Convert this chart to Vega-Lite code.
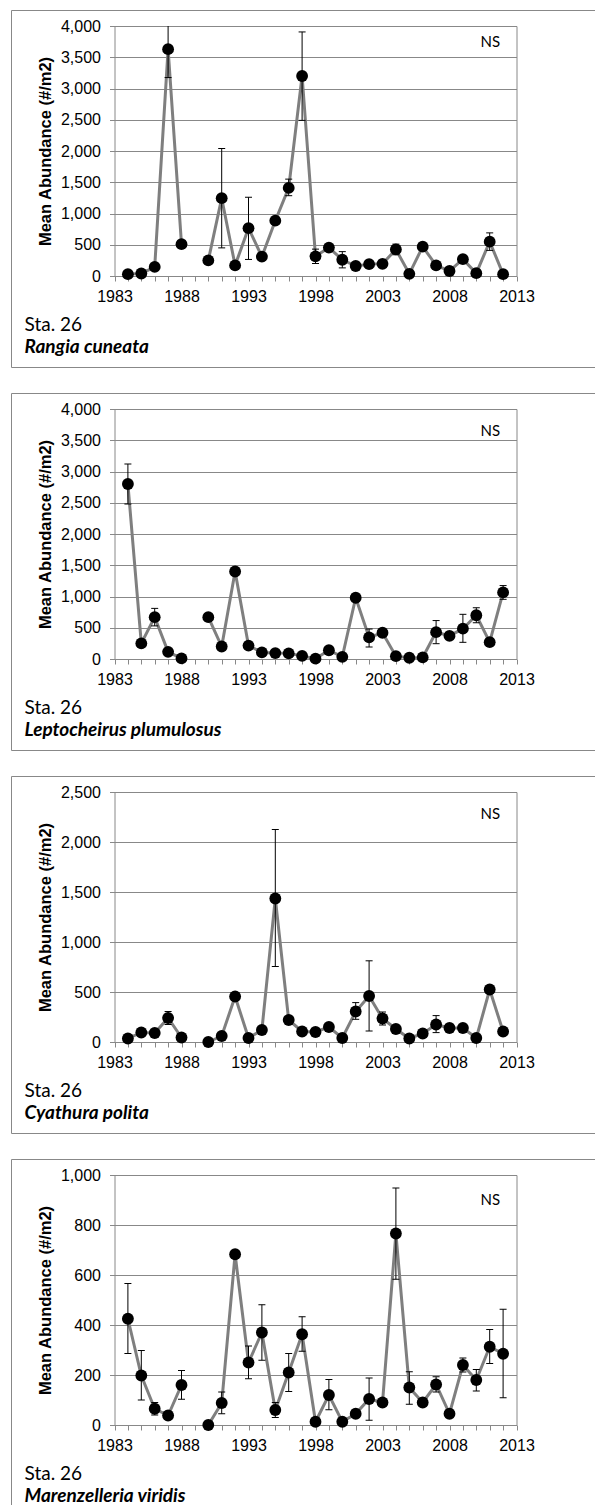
{
  "$schema": "https://vega.github.io/schema/vega-lite/v6.json",
  "background": "white",
  "padding": {"left": 10, "top": 9, "right": 0, "bottom": 0},
  "autosize": {"type": "pad"},
  "datasets": {
    "rangia": [
      {"year": 1984, "mean": 30, "lo": null, "hi": null},
      {"year": 1985, "mean": 40, "lo": null, "hi": null},
      {"year": 1986, "mean": 145, "lo": null, "hi": null},
      {"year": 1987, "mean": 3630, "lo": 3175, "hi": 4000},
      {"year": 1988, "mean": 510, "lo": null, "hi": null},
      {"year": 1990, "mean": 250, "lo": null, "hi": null},
      {"year": 1991, "mean": 1245, "lo": 450, "hi": 2040},
      {"year": 1992, "mean": 170, "lo": null, "hi": null},
      {"year": 1993, "mean": 765, "lo": 265, "hi": 1260},
      {"year": 1994, "mean": 310, "lo": null, "hi": null},
      {"year": 1995, "mean": 885, "lo": null, "hi": null},
      {"year": 1996, "mean": 1410, "lo": 1285, "hi": 1550},
      {"year": 1997, "mean": 3200, "lo": 2490, "hi": 3905},
      {"year": 1998, "mean": 315, "lo": 200, "hi": 430},
      {"year": 1999, "mean": 455, "lo": null, "hi": null},
      {"year": 2000, "mean": 260, "lo": 130, "hi": 390},
      {"year": 2001, "mean": 160, "lo": null, "hi": null},
      {"year": 2002, "mean": 190, "lo": null, "hi": null},
      {"year": 2003, "mean": 195, "lo": null, "hi": null},
      {"year": 2004, "mean": 425, "lo": 340, "hi": 510},
      {"year": 2005, "mean": 35, "lo": null, "hi": null},
      {"year": 2006, "mean": 470, "lo": null, "hi": null},
      {"year": 2007, "mean": 170, "lo": null, "hi": null},
      {"year": 2008, "mean": 80, "lo": null, "hi": null},
      {"year": 2009, "mean": 270, "lo": null, "hi": null},
      {"year": 2010, "mean": 45, "lo": null, "hi": null},
      {"year": 2011, "mean": 550, "lo": 410, "hi": 690},
      {"year": 2012, "mean": 30, "lo": null, "hi": null}
    ],
    "lepto": [
      {"year": 1984, "mean": 2800, "lo": 2480, "hi": 3120},
      {"year": 1985, "mean": 250, "lo": null, "hi": null},
      {"year": 1986, "mean": 670, "lo": 530, "hi": 810},
      {"year": 1987, "mean": 115, "lo": null, "hi": null},
      {"year": 1988, "mean": 10, "lo": null, "hi": null},
      {"year": 1990, "mean": 670, "lo": null, "hi": null},
      {"year": 1991, "mean": 200, "lo": null, "hi": null},
      {"year": 1992, "mean": 1400, "lo": null, "hi": null},
      {"year": 1993, "mean": 215, "lo": null, "hi": null},
      {"year": 1994, "mean": 105, "lo": null, "hi": null},
      {"year": 1995, "mean": 95, "lo": null, "hi": null},
      {"year": 1996, "mean": 90, "lo": null, "hi": null},
      {"year": 1997, "mean": 50, "lo": null, "hi": null},
      {"year": 1998, "mean": 5, "lo": null, "hi": null},
      {"year": 1999, "mean": 140, "lo": null, "hi": null},
      {"year": 2000, "mean": 35, "lo": null, "hi": null},
      {"year": 2001, "mean": 980, "lo": null, "hi": null},
      {"year": 2002, "mean": 345, "lo": 192, "hi": 480},
      {"year": 2003, "mean": 420, "lo": null, "hi": null},
      {"year": 2004, "mean": 45, "lo": null, "hi": null},
      {"year": 2005, "mean": 20, "lo": null, "hi": null},
      {"year": 2006, "mean": 25, "lo": null, "hi": null},
      {"year": 2007, "mean": 430, "lo": 245, "hi": 615},
      {"year": 2008, "mean": 370, "lo": null, "hi": null},
      {"year": 2009, "mean": 485, "lo": 267, "hi": 715},
      {"year": 2010, "mean": 700, "lo": 580, "hi": 820},
      {"year": 2011, "mean": 270, "lo": null, "hi": null},
      {"year": 2012, "mean": 1065, "lo": 955, "hi": 1175}
    ],
    "cyath": [
      {"year": 1984, "mean": 35, "lo": null, "hi": null},
      {"year": 1985, "mean": 95, "lo": null, "hi": null},
      {"year": 1986, "mean": 90, "lo": null, "hi": null},
      {"year": 1987, "mean": 240, "lo": 175, "hi": 305},
      {"year": 1988, "mean": 45, "lo": null, "hi": null},
      {"year": 1990, "mean": 0, "lo": null, "hi": null},
      {"year": 1991, "mean": 60, "lo": null, "hi": null},
      {"year": 1992, "mean": 455, "lo": null, "hi": null},
      {"year": 1993, "mean": 40, "lo": null, "hi": null},
      {"year": 1994, "mean": 120, "lo": null, "hi": null},
      {"year": 1995, "mean": 1435, "lo": 755, "hi": 2125},
      {"year": 1996, "mean": 220, "lo": null, "hi": null},
      {"year": 1997, "mean": 105, "lo": null, "hi": null},
      {"year": 1998, "mean": 100, "lo": null, "hi": null},
      {"year": 1999, "mean": 150, "lo": null, "hi": null},
      {"year": 2000, "mean": 40, "lo": null, "hi": null},
      {"year": 2001, "mean": 305, "lo": 227, "hi": 394},
      {"year": 2002, "mean": 460, "lo": 110, "hi": 812},
      {"year": 2003, "mean": 235, "lo": 170, "hi": 300},
      {"year": 2004, "mean": 130, "lo": null, "hi": null},
      {"year": 2005, "mean": 35, "lo": null, "hi": null},
      {"year": 2006, "mean": 85, "lo": null, "hi": null},
      {"year": 2007, "mean": 175, "lo": 94, "hi": 264},
      {"year": 2008, "mean": 140, "lo": null, "hi": null},
      {"year": 2009, "mean": 140, "lo": null, "hi": null},
      {"year": 2010, "mean": 40, "lo": null, "hi": null},
      {"year": 2011, "mean": 525, "lo": null, "hi": null},
      {"year": 2012, "mean": 105, "lo": null, "hi": null}
    ],
    "maren": [
      {"year": 1984, "mean": 425, "lo": 286, "hi": 566},
      {"year": 1985, "mean": 198, "lo": 100, "hi": 298},
      {"year": 1986, "mean": 65, "lo": 40, "hi": 90},
      {"year": 1987, "mean": 38, "lo": null, "hi": null},
      {"year": 1988, "mean": 160, "lo": 103, "hi": 218},
      {"year": 1990, "mean": 0, "lo": null, "hi": null},
      {"year": 1991, "mean": 88, "lo": 45, "hi": 132},
      {"year": 1992, "mean": 683, "lo": null, "hi": null},
      {"year": 1993, "mean": 250, "lo": 185, "hi": 316},
      {"year": 1994, "mean": 370, "lo": 259, "hi": 481},
      {"year": 1995, "mean": 60, "lo": 30, "hi": 90},
      {"year": 1996, "mean": 210, "lo": 134, "hi": 286},
      {"year": 1997, "mean": 363, "lo": 295, "hi": 433},
      {"year": 1998, "mean": 13, "lo": null, "hi": null},
      {"year": 1999, "mean": 120, "lo": 61, "hi": 182},
      {"year": 2000, "mean": 13, "lo": null, "hi": null},
      {"year": 2001, "mean": 45, "lo": 30, "hi": 60},
      {"year": 2002, "mean": 104, "lo": 19, "hi": 188},
      {"year": 2003, "mean": 90, "lo": null, "hi": null},
      {"year": 2004, "mean": 766, "lo": 583, "hi": 948},
      {"year": 2005, "mean": 150, "lo": 83, "hi": 213},
      {"year": 2006, "mean": 90, "lo": null, "hi": null},
      {"year": 2007, "mean": 162, "lo": 132, "hi": 193},
      {"year": 2008, "mean": 45, "lo": null, "hi": null},
      {"year": 2009, "mean": 240, "lo": 212, "hi": 268},
      {"year": 2010, "mean": 180, "lo": 136, "hi": 222},
      {"year": 2011, "mean": 313, "lo": 246, "hi": 382},
      {"year": 2012, "mean": 285, "lo": 109, "hi": 463}
    ]
  },
  "vconcat": [
    {
      "data": {"name": "rangia"},
      "width": 584, "height": 357,
      "title": {"text": "Sta. 26", "subtitle": "Rangia cuneata", "orient": "bottom", "anchor": "start", "frame": "group", "offset": -51, "dx": 13.5, "font": "Lato", "fontSize": 19, "fontWeight": "normal", "color": "#000", "subtitleFont": "Lato", "subtitleFontSize": 19, "subtitleFontStyle": "italic", "subtitleFontWeight": "bold", "subtitleColor": "#000", "subtitlePadding": 3},
      "resolve": {"axis": {"y": "independent"}},
      "encoding": {
        "x": {"field": "year", "type": "quantitative", "scale": {"domain": [1983, 2013], "range": [103.5, 505.5], "nice": false, "zero": false},
          "axis": {"values": [1983,1984,1985,1986,1987,1988,1989,1990,1991,1992,1993,1994,1995,1996,1997,1998,1999,2000,2001,2002,2003,2004,2005,2006,2007,2008,2009,2010,2011,2012,2013], "format": "d", "labelExpr": "(datum.value - 1983) % 5 == 0 ? datum.label : ''", "offset": -91, "grid": false, "labelOverlap": false, "labelFlush": false, "labelPadding": 7,
            "title": "NS", "titleX": 478.8, "titleY": -234.5, "titleAlign": "center", "titleBaseline": "middle", "titleAngle": 0, "titleFont": "Lato", "titleFontSize": 15, "titleFontWeight": "normal", "titleColor": "#000"}},
        "y": {"field": "mean", "type": "quantitative", "scale": {"domain": [0, 4000], "range": [266, 16], "nice": false, "zero": true}, "axis": null}
      },
      "layer": [
        {"transform": [{"filter": "datum.year <= 1988"}], "mark": {"type": "line", "color": "#7f7f7f", "strokeWidth": 3},
          "encoding": {"y": {"field": "mean", "type": "quantitative", "scale": {"domain": [0, 4000], "range": [266, 16], "nice": false, "zero": true},
            "axis": {"orient": "left", "values": [0,500,1000,1500,2000,2500,3000,3500,4000], "format": ",d", "offset": -103.5, "grid": true, "title": "Mean Abundance (#/m2)"}}}},
        {"transform": [{"filter": "datum.year >= 1990"}], "mark": {"type": "line", "color": "#7f7f7f", "strokeWidth": 3}},
        {"transform": [{"filter": "isValid(datum.lo)"}], "mark": {"type": "rule", "color": "#000", "strokeWidth": 1},
          "encoding": {"y": {"field": "lo", "type": "quantitative", "axis": null}, "y2": {"field": "hi"}}},
        {"transform": [{"filter": "isValid(datum.lo)"}], "mark": {"type": "tick", "orient": "horizontal", "color": "#000", "size": 7, "thickness": 1, "opacity": 1},
          "encoding": {"y": {"field": "lo", "type": "quantitative", "axis": null}}},
        {"transform": [{"filter": "isValid(datum.hi) && datum.hi < 4000"}], "mark": {"type": "tick", "orient": "horizontal", "color": "#000", "size": 7, "thickness": 1, "opacity": 1},
          "encoding": {"y": {"field": "hi", "type": "quantitative", "axis": null}}},
        {"mark": {"type": "circle", "color": "#000", "size": 140, "opacity": 1},
          "encoding": {"y": {"field": "mean", "type": "quantitative", "scale": {"domain": [0, 4000], "range": [266, 16], "nice": false, "zero": true},
            "axis": {"orient": "right", "offset": -78.5, "labels": false, "ticks": false, "grid": false, "domain": true, "title": null}}}}
      ]
    },
    {
      "data": {"name": "lepto"},
      "width": 584, "height": 357,
      "title": {"text": "Sta. 26", "subtitle": "Leptocheirus plumulosus", "orient": "bottom", "anchor": "start", "frame": "group", "offset": -51, "dx": 13.5, "font": "Lato", "fontSize": 19, "fontWeight": "normal", "color": "#000", "subtitleFont": "Lato", "subtitleFontSize": 19, "subtitleFontStyle": "italic", "subtitleFontWeight": "bold", "subtitleColor": "#000", "subtitlePadding": 3},
      "resolve": {"axis": {"y": "independent"}},
      "encoding": {
        "x": {"field": "year", "type": "quantitative", "scale": {"domain": [1983, 2013], "range": [103.5, 505.5], "nice": false, "zero": false},
          "axis": {"values": [1983,1984,1985,1986,1987,1988,1989,1990,1991,1992,1993,1994,1995,1996,1997,1998,1999,2000,2001,2002,2003,2004,2005,2006,2007,2008,2009,2010,2011,2012,2013], "format": "d", "labelExpr": "(datum.value - 1983) % 5 == 0 ? datum.label : ''", "offset": -91, "grid": false, "labelOverlap": false, "labelFlush": false, "labelPadding": 7,
            "title": "NS", "titleX": 478.8, "titleY": -229, "titleAlign": "center", "titleBaseline": "middle", "titleAngle": 0, "titleFont": "Lato", "titleFontSize": 15, "titleFontWeight": "normal", "titleColor": "#000"}},
        "y": {"field": "mean", "type": "quantitative", "scale": {"domain": [0, 4000], "range": [266, 16], "nice": false, "zero": true}, "axis": null}
      },
      "layer": [
        {"transform": [{"filter": "datum.year <= 1988"}], "mark": {"type": "line", "color": "#7f7f7f", "strokeWidth": 3},
          "encoding": {"y": {"field": "mean", "type": "quantitative", "scale": {"domain": [0, 4000], "range": [266, 16], "nice": false, "zero": true},
            "axis": {"orient": "left", "values": [0,500,1000,1500,2000,2500,3000,3500,4000], "format": ",d", "offset": -103.5, "grid": true, "title": "Mean Abundance (#/m2)"}}}},
        {"transform": [{"filter": "datum.year >= 1990"}], "mark": {"type": "line", "color": "#7f7f7f", "strokeWidth": 3}},
        {"transform": [{"filter": "isValid(datum.lo)"}], "mark": {"type": "rule", "color": "#000", "strokeWidth": 1},
          "encoding": {"y": {"field": "lo", "type": "quantitative", "axis": null}, "y2": {"field": "hi"}}},
        {"transform": [{"filter": "isValid(datum.lo)"}], "mark": {"type": "tick", "orient": "horizontal", "color": "#000", "size": 7, "thickness": 1, "opacity": 1},
          "encoding": {"y": {"field": "lo", "type": "quantitative", "axis": null}}},
        {"transform": [{"filter": "isValid(datum.hi)"}], "mark": {"type": "tick", "orient": "horizontal", "color": "#000", "size": 7, "thickness": 1, "opacity": 1},
          "encoding": {"y": {"field": "hi", "type": "quantitative", "axis": null}}},
        {"mark": {"type": "circle", "color": "#000", "size": 140, "opacity": 1},
          "encoding": {"y": {"field": "mean", "type": "quantitative", "scale": {"domain": [0, 4000], "range": [266, 16], "nice": false, "zero": true},
            "axis": {"orient": "right", "offset": -78.5, "labels": false, "ticks": false, "grid": false, "domain": true, "title": null}}}}
      ]
    },
    {
      "data": {"name": "cyath"},
      "width": 584, "height": 357,
      "title": {"text": "Sta. 26", "subtitle": "Cyathura polita", "orient": "bottom", "anchor": "start", "frame": "group", "offset": -51, "dx": 13.5, "font": "Lato", "fontSize": 19, "fontWeight": "normal", "color": "#000", "subtitleFont": "Lato", "subtitleFontSize": 19, "subtitleFontStyle": "italic", "subtitleFontWeight": "bold", "subtitleColor": "#000", "subtitlePadding": 3},
      "resolve": {"axis": {"y": "independent"}},
      "encoding": {
        "x": {"field": "year", "type": "quantitative", "scale": {"domain": [1983, 2013], "range": [103.5, 505.5], "nice": false, "zero": false},
          "axis": {"values": [1983,1984,1985,1986,1987,1988,1989,1990,1991,1992,1993,1994,1995,1996,1997,1998,1999,2000,2001,2002,2003,2004,2005,2006,2007,2008,2009,2010,2011,2012,2013], "format": "d", "labelExpr": "(datum.value - 1983) % 5 == 0 ? datum.label : ''", "offset": -91, "grid": false, "labelOverlap": false, "labelFlush": false, "labelPadding": 7,
            "title": "NS", "titleX": 478.8, "titleY": -229, "titleAlign": "center", "titleBaseline": "middle", "titleAngle": 0, "titleFont": "Lato", "titleFontSize": 15, "titleFontWeight": "normal", "titleColor": "#000"}},
        "y": {"field": "mean", "type": "quantitative", "scale": {"domain": [0, 2500], "range": [266, 16], "nice": false, "zero": true}, "axis": null}
      },
      "layer": [
        {"transform": [{"filter": "datum.year <= 1988"}], "mark": {"type": "line", "color": "#7f7f7f", "strokeWidth": 3},
          "encoding": {"y": {"field": "mean", "type": "quantitative", "scale": {"domain": [0, 2500], "range": [266, 16], "nice": false, "zero": true},
            "axis": {"orient": "left", "values": [0,500,1000,1500,2000,2500], "format": ",d", "offset": -103.5, "grid": true, "title": "Mean Abundance (#/m2)"}}}},
        {"transform": [{"filter": "datum.year >= 1990"}], "mark": {"type": "line", "color": "#7f7f7f", "strokeWidth": 3}},
        {"transform": [{"filter": "isValid(datum.lo)"}], "mark": {"type": "rule", "color": "#000", "strokeWidth": 1},
          "encoding": {"y": {"field": "lo", "type": "quantitative", "axis": null}, "y2": {"field": "hi"}}},
        {"transform": [{"filter": "isValid(datum.lo)"}], "mark": {"type": "tick", "orient": "horizontal", "color": "#000", "size": 7, "thickness": 1, "opacity": 1},
          "encoding": {"y": {"field": "lo", "type": "quantitative", "axis": null}}},
        {"transform": [{"filter": "isValid(datum.hi)"}], "mark": {"type": "tick", "orient": "horizontal", "color": "#000", "size": 7, "thickness": 1, "opacity": 1},
          "encoding": {"y": {"field": "hi", "type": "quantitative", "axis": null}}},
        {"mark": {"type": "circle", "color": "#000", "size": 140, "opacity": 1},
          "encoding": {"y": {"field": "mean", "type": "quantitative", "scale": {"domain": [0, 2500], "range": [266, 16], "nice": false, "zero": true},
            "axis": {"orient": "right", "offset": -78.5, "labels": false, "ticks": false, "grid": false, "domain": true, "title": null}}}}
      ]
    },
    {
      "data": {"name": "maren"},
      "width": 584, "height": 357,
      "title": {"text": "Sta. 26", "subtitle": "Marenzelleria viridis", "orient": "bottom", "anchor": "start", "frame": "group", "offset": -51, "dx": 13.5, "font": "Lato", "fontSize": 19, "fontWeight": "normal", "color": "#000", "subtitleFont": "Lato", "subtitleFontSize": 19, "subtitleFontStyle": "italic", "subtitleFontWeight": "bold", "subtitleColor": "#000", "subtitlePadding": 3},
      "resolve": {"axis": {"y": "independent"}},
      "encoding": {
        "x": {"field": "year", "type": "quantitative", "scale": {"domain": [1983, 2013], "range": [103.5, 505.5], "nice": false, "zero": false},
          "axis": {"values": [1983,1984,1985,1986,1987,1988,1989,1990,1991,1992,1993,1994,1995,1996,1997,1998,1999,2000,2001,2002,2003,2004,2005,2006,2007,2008,2009,2010,2011,2012,2013], "format": "d", "labelExpr": "(datum.value - 1983) % 5 == 0 ? datum.label : ''", "offset": -91, "grid": false, "labelOverlap": false, "labelFlush": false, "labelPadding": 7,
            "title": "NS", "titleX": 478.8, "titleY": -226, "titleAlign": "center", "titleBaseline": "middle", "titleAngle": 0, "titleFont": "Lato", "titleFontSize": 15, "titleFontWeight": "normal", "titleColor": "#000"}},
        "y": {"field": "mean", "type": "quantitative", "scale": {"domain": [0, 1000], "range": [266, 16], "nice": false, "zero": true}, "axis": null}
      },
      "layer": [
        {"transform": [{"filter": "datum.year <= 1988"}], "mark": {"type": "line", "color": "#7f7f7f", "strokeWidth": 3},
          "encoding": {"y": {"field": "mean", "type": "quantitative", "scale": {"domain": [0, 1000], "range": [266, 16], "nice": false, "zero": true},
            "axis": {"orient": "left", "values": [0,200,400,600,800,1000], "format": ",d", "offset": -103.5, "grid": true, "title": "Mean Abundance (#/m2)"}}}},
        {"transform": [{"filter": "datum.year >= 1990"}], "mark": {"type": "line", "color": "#7f7f7f", "strokeWidth": 3}},
        {"transform": [{"filter": "isValid(datum.lo)"}], "mark": {"type": "rule", "color": "#000", "strokeWidth": 1},
          "encoding": {"y": {"field": "lo", "type": "quantitative", "axis": null}, "y2": {"field": "hi"}}},
        {"transform": [{"filter": "isValid(datum.lo)"}], "mark": {"type": "tick", "orient": "horizontal", "color": "#000", "size": 7, "thickness": 1, "opacity": 1},
          "encoding": {"y": {"field": "lo", "type": "quantitative", "axis": null}}},
        {"transform": [{"filter": "isValid(datum.hi)"}], "mark": {"type": "tick", "orient": "horizontal", "color": "#000", "size": 7, "thickness": 1, "opacity": 1},
          "encoding": {"y": {"field": "hi", "type": "quantitative", "axis": null}}},
        {"mark": {"type": "circle", "color": "#000", "size": 140, "opacity": 1},
          "encoding": {"y": {"field": "mean", "type": "quantitative", "scale": {"domain": [0, 1000], "range": [266, 16], "nice": false, "zero": true},
            "axis": {"orient": "right", "offset": -78.5, "labels": false, "ticks": false, "grid": false, "domain": true, "title": null}}}}
      ]
    }
  ],
  "config": {
    "view": {"stroke": "#888888", "strokeWidth": 1},
    "concat": {"spacing": 24},
    "axis": {
      "labelFont": "Liberation Sans", "labelFontSize": 16, "labelColor": "#000",
      "domainColor": "#888888", "tickColor": "#888888", "tickSize": 5, "labelPadding": 9,
      "gridColor": "#888888", "gridWidth": 1,
      "titleFont": "Liberation Sans", "titleFontSize": 16.5, "titleFontWeight": "bold", "titleColor": "#000", "titlePadding": 7
    }
  }
}
